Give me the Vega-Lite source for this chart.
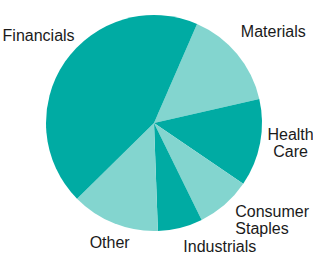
{
  "$schema": "https://vega.github.io/schema/vega-lite/v6.json",
  "width": 308,
  "height": 246,
  "autosize": {"type": "none"},
  "padding": {"left": 0, "top": 0, "right": 5, "bottom": 10},
  "background": "white",
  "view": {"stroke": null},
  "config": {
    "text": {"font": "Liberation Sans", "fontSize": 16, "fill": "#1a1a1a", "lineBreak": "\n", "lineHeight": 17}
  },
  "data": {
    "values": [
      {"sector": "Materials", "label": "Materials", "share": 14.9, "order": 1, "tone": "light"},
      {"sector": "Health Care", "label": "Health\nCare", "share": 13.1, "order": 2, "tone": "dark"},
      {"sector": "Consumer Staples", "label": "Consumer\nStaples", "share": 8.2, "order": 3, "tone": "light"},
      {"sector": "Industrials", "label": "Industrials", "share": 6.7, "order": 4, "tone": "dark"},
      {"sector": "Other", "label": "Other", "share": 13.2, "order": 5, "tone": "light"},
      {"sector": "Financials", "label": "Financials", "share": 43.9, "order": 6, "tone": "dark"}
    ]
  },
  "encoding": {
    "theta": {"field": "share", "type": "quantitative", "stack": true, "scale": {"range": [0.41, 6.6932]}},
    "order": {"field": "order", "type": "quantitative"}
  },
  "layer": [
    {
      "mark": {"type": "arc", "outerRadius": 108, "stroke": null},
      "encoding": {
        "color": {"field": "tone", "type": "nominal", "scale": {"domain": ["dark", "light"], "range": ["#00ABA3", "#83D5CF"]}, "legend": null}
      }
    },
    {
      "mark": {"type": "text", "radius": 140, "align": "center", "baseline": "bottom"},
      "encoding": {
        "text": {"condition": {"test": "datum.sector == 'Financials'", "field": "label"}, "value": ""}
      }
    },
    {
      "mark": {"type": "text", "radius": 155, "align": "center", "baseline": "top"},
      "encoding": {
        "text": {"condition": {"test": "datum.sector == 'Materials'", "field": "label"}, "value": ""}
      }
    },
    {
      "mark": {"type": "text", "radius": 139, "align": "center", "baseline": "middle", "dy": -14},
      "encoding": {
        "text": {"condition": {"test": "datum.sector == 'Health Care'", "field": "label"}, "value": ""}
      }
    },
    {
      "mark": {"type": "text", "radius": 124, "align": "left", "baseline": "middle", "dy": -4.5},
      "encoding": {
        "text": {"condition": {"test": "datum.sector == 'Consumer Staples'", "field": "label"}, "value": ""}
      }
    },
    {
      "mark": {"type": "text", "radius": 120, "align": "left", "baseline": "top"},
      "encoding": {
        "text": {"condition": {"test": "datum.sector == 'Industrials'", "field": "label"}, "value": ""}
      }
    },
    {
      "mark": {"type": "text", "radius": 120, "align": "center", "baseline": "top"},
      "encoding": {
        "text": {"condition": {"test": "datum.sector == 'Other'", "field": "label"}, "value": ""}
      }
    }
  ]
}
